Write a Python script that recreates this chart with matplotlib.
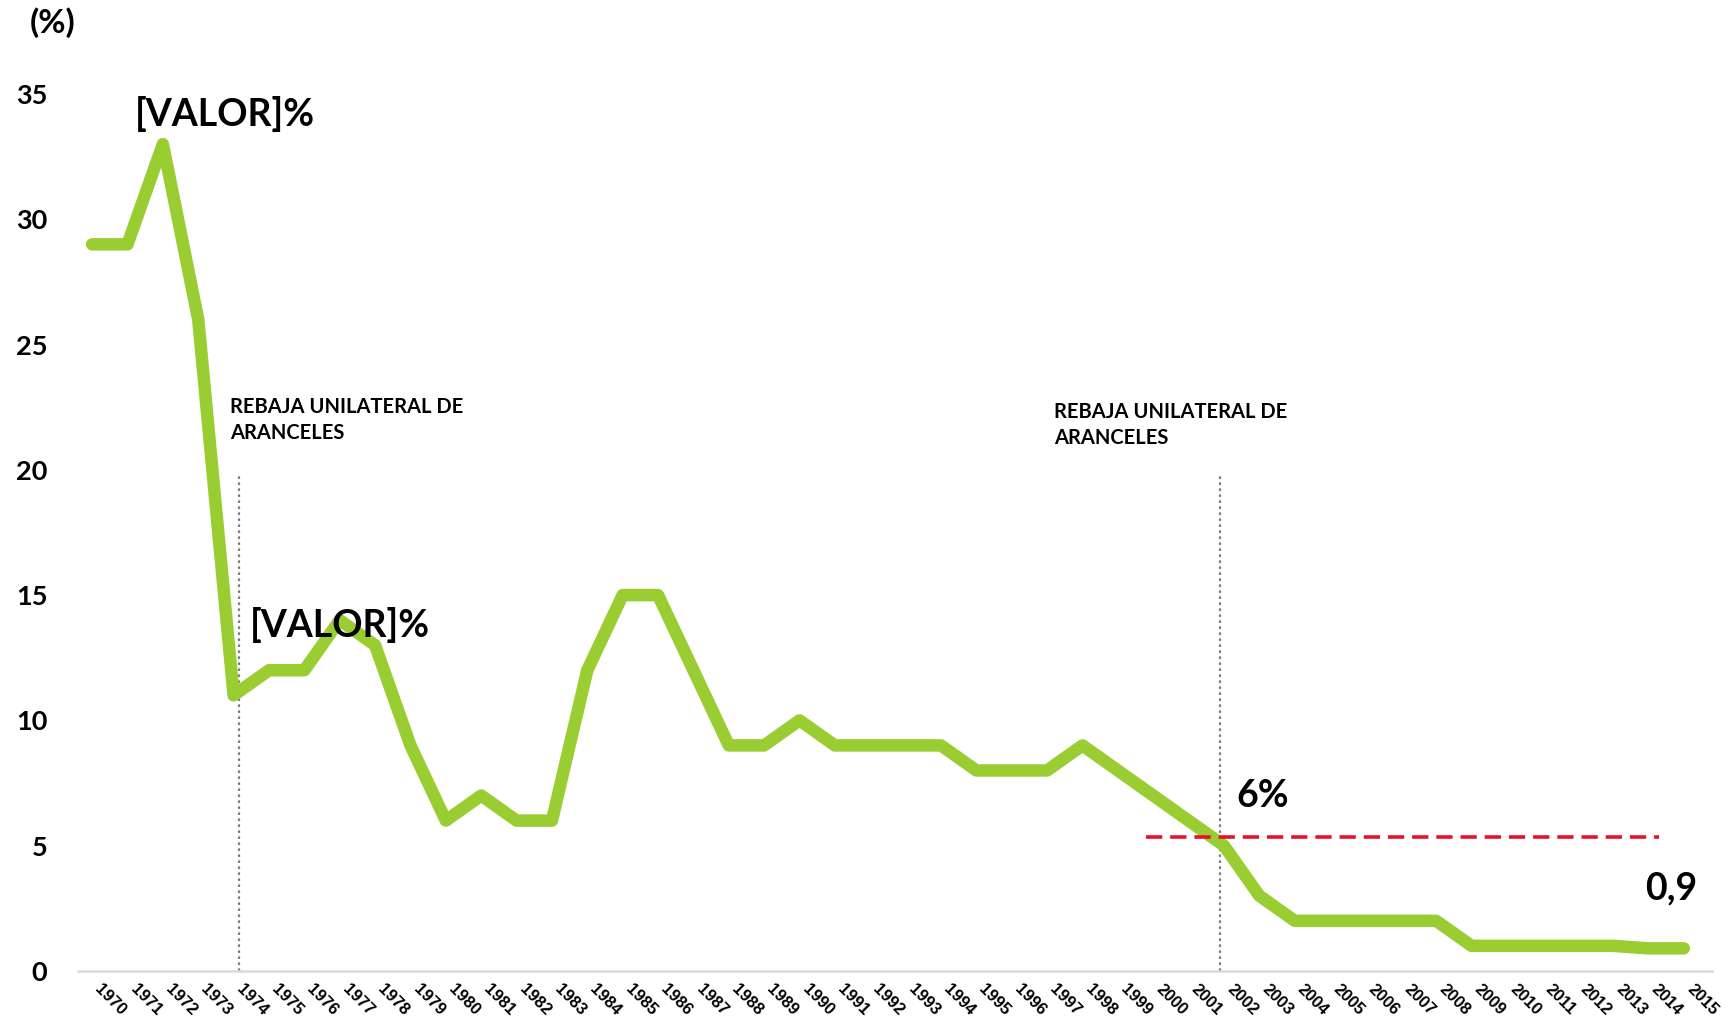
import numpy as np
import matplotlib.pyplot as plt

years = list(range(1970, 2016))
arancel = [29, 29, 33, 26, 11, 12, 12, 14, 13, 9,
           6, 7, 6, 6, 12, 15, 15, 12, 9, 9,
           10, 9, 9, 9, 9, 8, 8, 8, 9, 8,
           7, 6, 5, 3, 2, 2, 2, 2, 2, 1,
           1, 1, 1, 1, 0.9, 0.9]
y_ticks = [0, 5, 10, 15, 20, 25, 30, 35]
rebajas = [1974.15, 2001.9]
linea_ref = 5.35
nota_rebaja = "REBAJA UNILATERAL DE\nARANCELES"

main_font = ['Lato', 'DejaVu Sans']
narrow = ['Liberation Sans Narrow', 'Liberation Sans', 'DejaVu Sans']

fig = plt.figure(figsize=(17.29, 10.22), dpi=100)
ax = fig.add_axes([0.0451, 0.050, 0.9449, 0.858])

ax.plot(years, arancel, color='#9ACD32', lw=9, solid_capstyle='round',
        solid_joinstyle='round', zorder=3)

for r in rebajas:
    ax.vlines(r, 0, 19.8, colors='#7f7f7f', linestyles=(0, (1.2, 1.5)),
              lw=1.6, zorder=2)

ax.hlines(linea_ref, 1999.8, 2014.3, colors='#E8112D',
          linestyles=(0, (4.5, 2.2)), lw=2.6, zorder=4)

ax.set_xlim(1969.6, 2015.79)
ax.set_ylim(0, 35)
ax.set_yticks(y_ticks)
ax.set_xticks(years)

for s in ['top', 'right', 'left']:
    ax.spines[s].set_visible(False)
ax.spines['bottom'].set_color('#d9d9d9')
ax.spines['bottom'].set_linewidth(1.8)

ax.tick_params(axis='y', length=0, pad=22)
ax.tick_params(axis='x', length=0, pad=8)
for lab in ax.get_yticklabels():
    lab.set_fontfamily(main_font)
    lab.set_fontweight('bold')
    lab.set_fontsize(19.5)
ax.set_xticklabels([str(y) for y in years], rotation=-45, ha='left', va='top',
                   fontsize=12, fontweight='bold', family=narrow)

txt = dict(family=main_font, fontweight='bold', color='black')
fig.text(0.017, 0.978, "(%)", fontsize=24, va='center', ha='left', **txt)
ax.text(1971.2, 34.2, "[VALOR]%", fontsize=27, va='center', ha='left', **txt)
ax.text(1974.45, 13.8, "[VALOR]%", fontsize=27, va='center', ha='left', **txt)
ax.text(1973.9, 22.0, nota_rebaja, fontsize=14.5, va='center', ha='left',
        linespacing=1.35, **txt)
ax.text(1997.2, 21.8, nota_rebaja, fontsize=14.5, va='center', ha='left',
        linespacing=1.35, **txt)
ax.text(2002.35, 7.0, "6%", fontsize=27, va='center', ha='left', **txt)
ax.text(2013.9, 3.3, "0,9", fontsize=27, va='center', ha='left', **txt)

fig.savefig('out.png', dpi=100)
